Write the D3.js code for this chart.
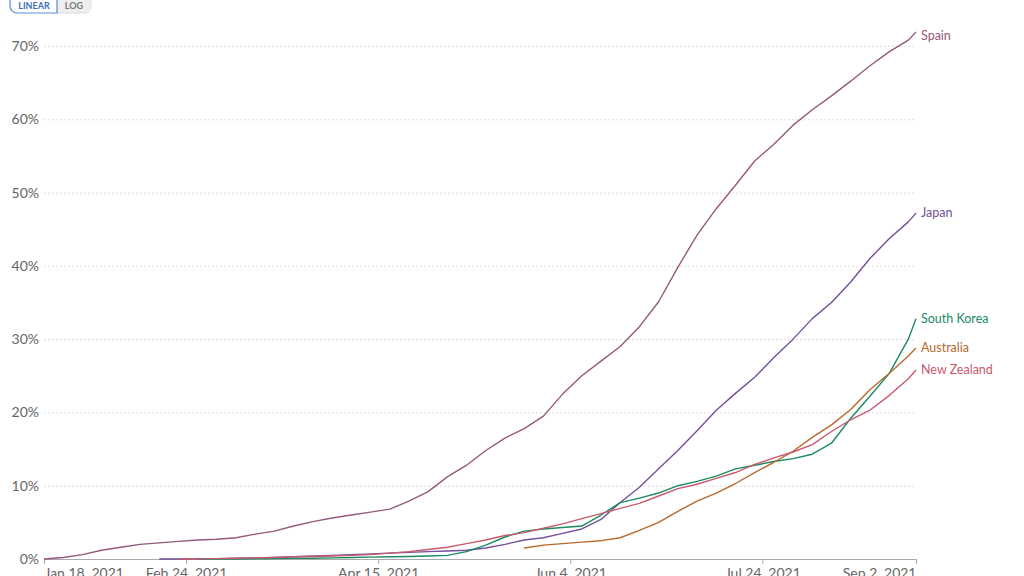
<!DOCTYPE html>
<html>
<head>
<meta charset="utf-8">
<script src="https://cdn.jsdelivr.net/npm/d3@7"></script>
<style>
  html, body { margin: 0; padding: 0; background: #fff; }
  svg { display: block; font-family: Lato, "Noto Sans", sans-serif; }
</style>
</head>
<body>
<main></main>
<script>
// share of people fully vaccinated, sampled every 5 days
const dates = [
  "2021-01-18","2021-01-23","2021-01-28","2021-02-02","2021-02-07","2021-02-12","2021-02-17","2021-02-22",
  "2021-02-27","2021-03-04","2021-03-09","2021-03-14","2021-03-19","2021-03-24","2021-03-29","2021-04-03",
  "2021-04-08","2021-04-13","2021-04-18","2021-04-23","2021-04-28","2021-05-03","2021-05-08","2021-05-13",
  "2021-05-18","2021-05-23","2021-05-28","2021-06-02","2021-06-07","2021-06-12","2021-06-17","2021-06-22",
  "2021-06-27","2021-07-02","2021-07-07","2021-07-12","2021-07-17","2021-07-22","2021-07-27","2021-08-01",
  "2021-08-06","2021-08-11","2021-08-16","2021-08-21","2021-08-26","2021-08-31","2021-09-02"
];

const spain = [0,0.2,0.6,1.2,1.6,2.0,2.2,2.4,2.6,2.7,2.9,3.4,3.8,4.5,5.1,5.6,6.0,6.4,6.8,7.9,
  9.2,11.2,12.8,14.8,16.5,17.8,19.5,22.5,25.0,27.0,29.0,31.7,35.1,39.8,44.2,47.8,51.0,54.3,56.6,59.2,
  61.3,63.2,65.2,67.3,69.2,70.8,71.9];

const japan = [null,null,null,null,null,null,0,0,0.02,0.05,0.1,0.15,0.2,0.3,0.4,0.5,0.6,0.7,0.8,0.9,
  1.0,1.1,1.2,1.5,2.0,2.6,2.9,3.5,4.1,5.4,7.7,9.8,12.3,14.8,17.5,20.3,22.6,24.8,27.5,30.0,
  32.8,35.0,37.8,41.0,43.7,46.0,47.2];

const southKorea = [null,null,null,null,null,null,null,null,0,0,0.01,0.02,0.05,0.08,0.1,0.15,0.2,0.25,0.3,0.35,
  0.4,0.5,1.0,1.9,3.0,3.8,4.1,4.3,4.5,6.0,7.7,8.3,9.0,10.0,10.6,11.3,12.3,12.8,13.3,13.7,
  14.3,15.8,19.2,22.2,25.3,30.0,32.8];

const australia = [null,null,null,null,null,null,null,null,null,null,null,null,null,null,null,null,null,null,null,null,
  null,null,null,null,null,1.5,1.9,2.1,2.3,2.5,2.9,3.9,5.0,6.5,7.9,9.0,10.3,11.8,13.2,14.7,
  16.6,18.3,20.4,23.1,25.3,27.7,28.8];

const newZealand = [null,null,null,null,null,null,null,0,0.02,0.05,0.1,0.15,0.2,0.3,0.35,0.4,0.5,0.6,0.8,1.0,
  1.3,1.6,2.1,2.6,3.2,3.6,4.2,4.8,5.5,6.2,6.9,7.6,8.6,9.6,10.2,11.0,11.8,12.9,13.8,14.6,
  15.6,17.4,19.0,20.3,22.3,24.6,25.8];

const countries = ["Spain", "Japan", "South Korea", "Australia", "New Zealand"];
const colors = ["#97587a", "#73509a", "#1a8a62", "#b66a2c", "#c85a6c"];
const yTicks = [0, 10, 20, 30, 40, 50, 60, 70];
const xTicks = ["2021-01-18", "2021-02-24", "2021-04-15", "2021-06-04", "2021-07-24", "2021-09-02"];

const WIDTH = 1024, HEIGHT = 576;
const LEFT = 44, RIGHT = 916, TOP = 46, BOTTOM = 559;

const parse = d3.timeParse("%Y-%m-%d");
const series = [spain, japan, southKorea, australia, newZealand].map((vals, i) => ({
  name: countries[i],
  color: colors[i],
  values: dates.map((d, j) => ({ date: parse(d), v: vals[j] }))
}));

const svg = d3.select("main").append("svg")
  .attr("width", WIDTH)
  .attr("height", HEIGHT);

const xScale = d3.scaleTime()
  .domain([parse(dates[0]), parse(dates[dates.length - 1])])
  .range([LEFT, RIGHT]);

const yScale = d3.scaleLinear()
  .domain([0, 70])
  .range([BOTTOM, TOP]);

// linear / log toggle
const toggle = svg.append("g").attr("font-size", 9).attr("font-weight", 700);
toggle.append("path")
  .attr("d", "M57,-8 H85 a6,6 0 0 1 6,6 V7 a6,6 0 0 1 -6,6 H57 Z")
  .attr("fill", "#eee")
  .attr("stroke", "#ddd");
toggle.append("path")
  .attr("d", "M57,-8 H17 a7,7 0 0 0 -7,7 V6 a7,7 0 0 0 7,7 H57 Z")
  .attr("fill", "#fff")
  .attr("stroke", "#5b8fd6")
  .attr("stroke-width", 1.2);
toggle.append("text").attr("x", 34).attr("y", 9).attr("text-anchor", "middle")
  .attr("fill", "#3c6fba").text("LINEAR");
toggle.append("text").attr("x", 74).attr("y", 9).attr("text-anchor", "middle")
  .attr("fill", "#777").text("LOG");

// y axis: gridlines + labels
const yAxis = d3.axisLeft(yScale)
  .tickValues(yTicks)
  .tickSize(-(RIGHT - LEFT))
  .tickPadding(5)
  .tickFormat(d => d + "%");

const yG = svg.append("g")
  .attr("transform", `translate(${LEFT}, 0)`)
  .call(yAxis);
yG.select(".domain").remove();
yG.selectAll(".tick line")
  .attr("stroke", "#ddd")
  .attr("stroke-dasharray", "2,2")
  .filter(d => d === 0).remove();
yG.selectAll(".tick text")
  .attr("fill", "#666")
  .attr("font-size", 14)
  .attr("font-family", "Lato, sans-serif");

// x axis
const xAxis = d3.axisBottom(xScale)
  .tickValues(xTicks.map(parse))
  .tickSize(5)
  .tickSizeOuter(0)
  .tickPadding(4)
  .tickFormat(d3.timeFormat("%b %-d, %Y"));

const xG = svg.append("g")
  .attr("transform", `translate(0, ${BOTTOM})`)
  .call(xAxis);
xG.select(".domain").attr("stroke", "#aaa");
xG.selectAll(".tick line").attr("stroke", "#aaa");
xG.selectAll(".tick text")
  .attr("fill", "#666")
  .attr("font-size", 14)
  .attr("font-family", "Lato, sans-serif")
  .attr("text-anchor", (d, i) => i === 0 ? "start" : i === xTicks.length - 1 ? "end" : "middle");

// lines
const line = d3.line()
  .defined(d => d.v !== null)
  .x(d => xScale(d.date))
  .y(d => yScale(d.v));

svg.append("g")
  .selectAll("path")
  .data(series)
  .join("path")
  .attr("fill", "none")
  .attr("stroke", d => d.color)
  .attr("stroke-width", 1.4)
  .attr("stroke-linejoin", "round")
  .attr("d", d => line(d.values));

// end labels, kept below the top gridline
svg.append("g")
  .selectAll("text")
  .data(series)
  .join("text")
  .attr("x", RIGHT + 5)
  .attr("y", d => Math.max(yScale(d.values[d.values.length - 1].v) + 1, TOP - 9))
  .attr("dominant-baseline", "middle")
  .attr("font-size", 12.5)
  .attr("fill", d => d.color)
  .text(d => d.name);
</script>
</body>
</html>
